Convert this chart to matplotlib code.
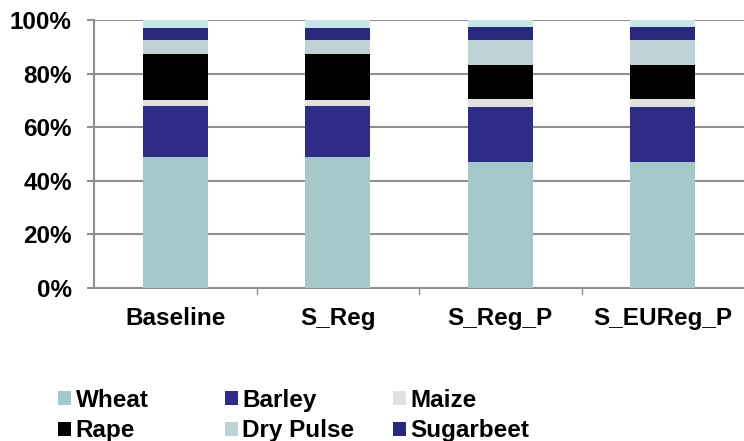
import matplotlib
matplotlib.use("Agg")
import matplotlib.pyplot as plt
from matplotlib.patches import Patch
from matplotlib.ticker import FixedLocator, PercentFormatter
import numpy as np

plt.rcParams['font.family'] = ['Liberation Sans', 'DejaVu Sans']
plt.rcParams['font.weight'] = 'bold'

scenarios = ["Baseline", "S_Reg", "S_Reg_P", "S_EUReg_P"]

# crop shares per scenario (% of area)
wheat = [49.0, 49.0, 47.1, 46.9]
barley = [19.0, 19.0, 20.6, 20.7]
maize = [2.1, 2.1, 2.8, 2.8]
rape = [17.3, 17.3, 12.7, 12.7]
dry_pulse = [5.1, 5.1, 9.4, 9.4]
sugarbeet = [4.5, 4.5, 4.7, 4.9]
other = [3.0, 3.0, 2.7, 2.6]

crops = ["Wheat", "Barley", "Maize", "Rape", "Dry Pulse", "Sugarbeet", "Other"]
series = [wheat, barley, maize, rape, dry_pulse, sugarbeet, other]
colors = ["#A5C8CA", "#2E2C85", "#E1E1E1", "#000000", "#BFD2D5", "#29287C", "#C7E6EA"]

FS = 17.5

fig = plt.figure(figsize=(7.44, 4.41), dpi=100)
ax = fig.add_axes([94 / 744, 1 - 288 / 441, 650 / 744, 268 / 441])

x = np.arange(len(scenarios))
bottom = np.zeros(len(scenarios))
for name, vals, col in zip(crops, series, colors):
    ax.bar(x, vals, width=0.4, bottom=bottom, color=col, zorder=3, label=name)
    bottom += np.array(vals)

grid_col = "#8F8F8F"
ax.set_xlim(-0.5, len(scenarios) - 0.5)
ax.set_ylim(0, 100)
ax.set_yticks(np.arange(0, 101, 20))
ax.yaxis.set_major_formatter(PercentFormatter(decimals=0))
ax.yaxis.grid(True, color=grid_col, linewidth=1.5, zorder=0)
ax.set_axisbelow(True)

ax.set_xticks(x)
ax.set_xticklabels(scenarios)
ax.xaxis.set_minor_locator(FixedLocator(np.arange(0.5, len(scenarios) - 1, 1)))
ax.tick_params(axis='x', which='major', length=0, pad=14, labelsize=FS)
ax.tick_params(axis='x', which='minor', length=5, width=1, color=grid_col)
ax.tick_params(axis='y', length=5, width=1.5, color=grid_col, pad=11, labelsize=FS)

for side in ("top", "right"):
    ax.spines[side].set_visible(False)
ax.spines["left"].set_color(grid_col)
ax.spines["left"].set_linewidth(1.5)
ax.spines["bottom"].set_color(grid_col)
ax.spines["bottom"].set_linewidth(1.5)

# legend laid out in three fixed-width columns, two rows each
columns = [["Wheat", "Rape"], ["Barley", "Dry Pulse"], ["Maize", "Sugarbeet"]]
col_x = [58, 225, 393]
for names, cx in zip(columns, col_x):
    handles = [Patch(facecolor=colors[crops.index(n)], label=n) for n in names]
    fig.legend(handles=handles, loc='upper left', bbox_to_anchor=(cx / 744, 1 - 389 / 441),
               frameon=False, fontsize=FS, borderpad=0, borderaxespad=0,
               handlelength=0.52, handleheight=0.52, handletextpad=0.2,
               labelspacing=0.3)

fig.savefig("out.png", dpi=100)
